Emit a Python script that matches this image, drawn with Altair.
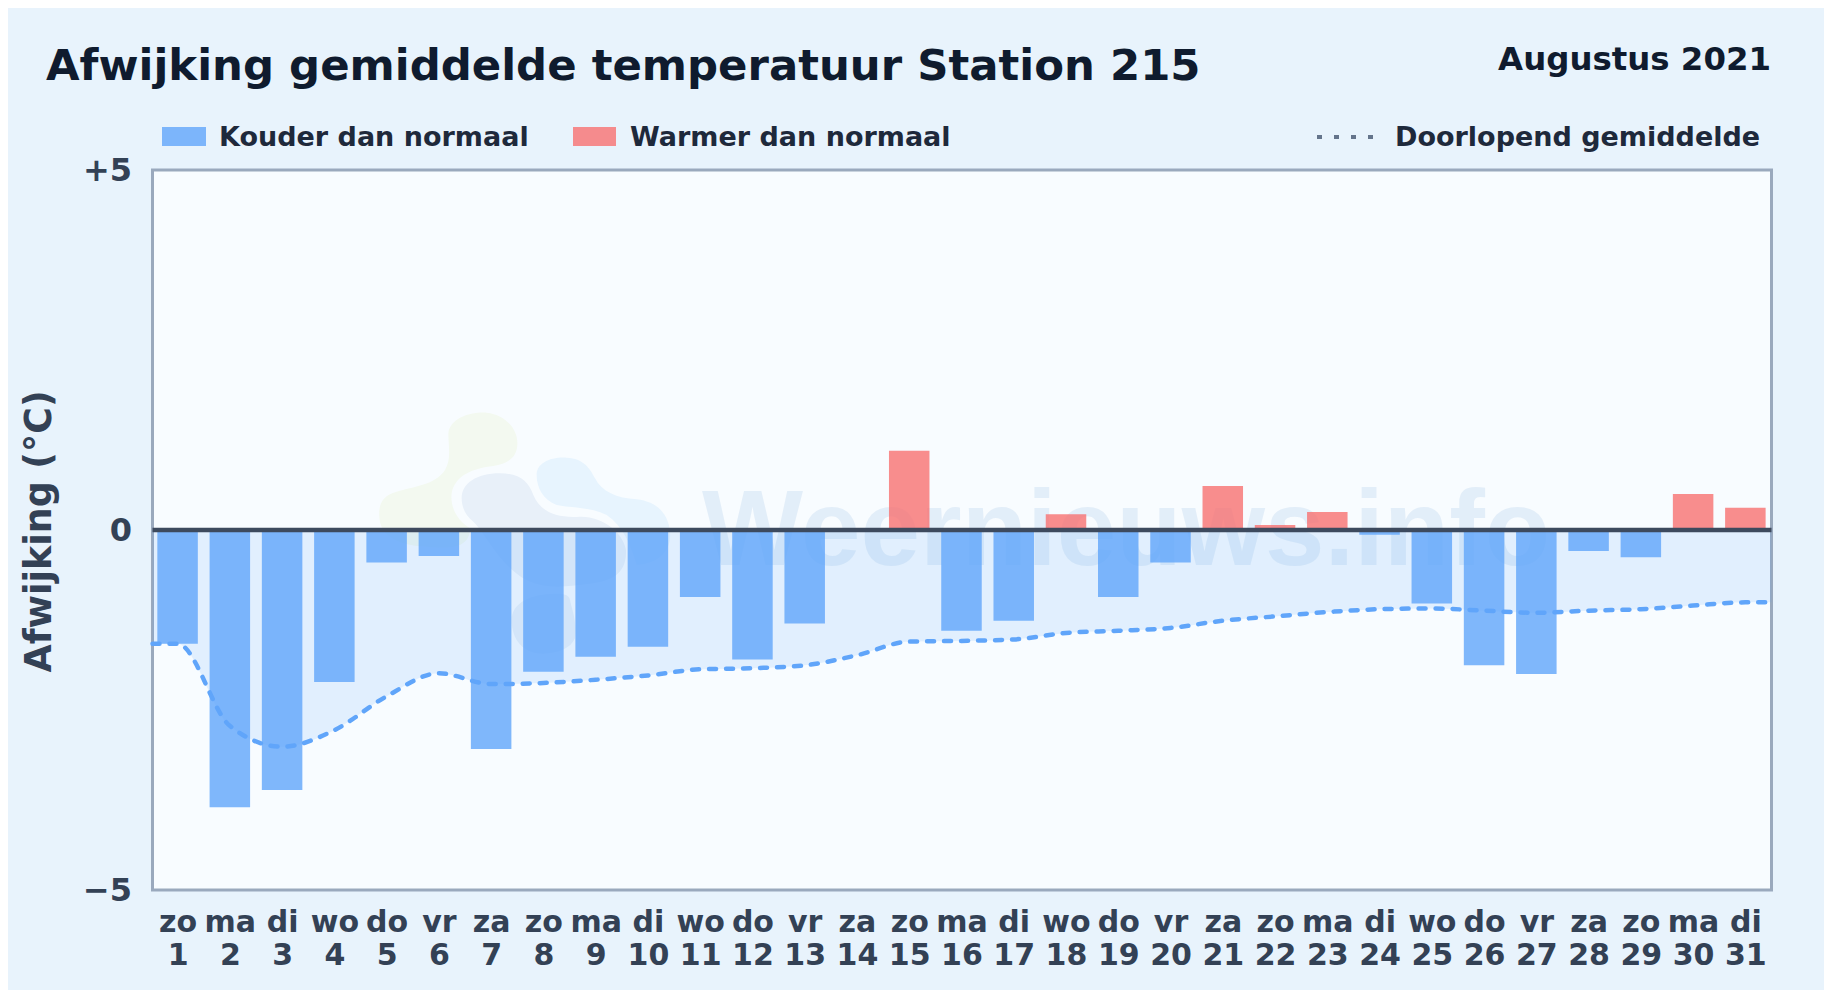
import json
import altair as alt
import pandas as pd

days = list(range(1, 32))
weekdays = ["zo","ma","di","wo","do","vr","za","zo","ma","di","wo","do","vr","za","zo","ma","di","wo","do","vr","za","zo","ma","di","wo","do","vr","za","zo","ma","di"]
deviation = [-1.58,-3.85,-3.61,-2.11,-0.45,-0.36,-3.04,-1.97,-1.76,-1.62,-0.93,-1.80,-1.30,0.0,1.10,-1.40,-1.26,0.22,-0.93,-0.45,0.61,0.07,0.25,-0.065,-1.02,-1.88,-2.0,-0.29,-0.38,0.50,0.31]
running = [-1.58,-2.72,-3.01,-2.78,-2.31,-1.99,-2.14,-2.125,-2.08,-2.02,-1.935,-1.92,-1.88,-1.74,-1.55,-1.54,-1.52,-1.43,-1.40,-1.36,-1.26,-1.20,-1.14,-1.10,-1.09,-1.12,-1.15,-1.12,-1.10,-1.05,-1.005]
x_domain = [0.52, 31.5]
line_days = [x_domain[0]] + days + [x_domain[1]]
line_vals = [running[0]] + running + [running[-1]]

FONT = "DejaVu Sans"
PL, PT = 152.5, 170.0
W, H = 1619, 720
BG = "#e8f3fc"

bars = pd.DataFrame({"day": days, "v": deviation, "z": 0.0})
bars["kind"] = ["warm" if v > 0 else "cold" for v in deviation]
bars = bars[bars.v != 0]
line_df = pd.DataFrame({"day": line_days, "v": line_vals, "z": 0.0})

xscale = alt.Scale(domain=x_domain, nice=False, zero=False, padding=0)
yscale = alt.Scale(domain=[-5, 5], nice=False)

def txt(s, px, py, size, color, align="left", font=FONT, opacity=1.0):
    return alt.Chart(alt.Data(values=[{"t": s}])).mark_text(
        font=font, fontSize=size, fontWeight="bold", color=color, align=align,
        baseline="alphabetic", opacity=opacity, clip=False
    ).encode(text="t:N", x=alt.value(px - PL), y=alt.value(py - PT))

def swatch(x0, x1, y0, y1, color, opacity):
    return alt.Chart(alt.Data(values=[{"a": 1}])).mark_rect(color=color, opacity=opacity).encode(
        x=alt.value(x0 - PL), x2=alt.value(x1 - PL), y=alt.value(y0 - PT), y2=alt.value(y1 - PT))

def blob(path, color):
    return alt.Chart(alt.Data(values=[{"a": 1}])).mark_point(
        shape=path, filled=True, color=color, opacity=1, size=4/9, clip=False
    ).encode(x=alt.value(360 - PL), y=alt.value(390 - PT))

green = "M265 130C270 85 330 65 380 68C440 75 475 120 472 165C470 205 440 222 400 228C340 235 285 255 275 310C270 350 290 390 330 415C330 470 280 480 200 470C100 465 60 430 58 380C55 340 70 315 110 305C160 290 225 285 255 240C275 205 265 170 265 130Z"
grey = "M305 325C305 280 350 250 420 250C480 250 505 275 520 315C540 365 590 385 660 380C730 378 790 430 798 480C800 540 770 570 700 580C620 590 560 600 500 570C420 530 370 420 340 395C315 375 305 350 305 325Z"
light = "M530 255C530 220 570 200 620 203C670 205 690 235 705 265C725 305 770 325 830 328C890 335 925 370 930 425C935 480 900 520 830 525C810 460 790 410 740 375C690 350 640 355 590 345C550 330 530 295 530 255Z"
lower = "M455 690C455 640 510 615 570 612C610 610 630 610 632 640C640 670 650 700 645 745C630 780 580 795 530 790C480 780 455 740 455 690Z"

logo = [blob(green, "#f3f9f0"), blob(grey, "#e8f0f9"), blob(light, "#e7f4fe"), blob(lower, "#e8f0f9")]
watermark = txt("Weernieuws.info", 702, 565, 107, "#bcd5ee", font="Liberation Sans", opacity=0.35)

area = alt.Chart(line_df).mark_area(interpolate="monotone", color="#60a5fa", opacity=0.15).encode(
    x=alt.X("day:Q", scale=xscale, title=None,
            axis=alt.Axis(values=days, domain=False, ticks=False, grid=False, labelFont=FONT,
                          labelFontWeight="bold", labelFontSize=30, labelColor="#334155",
                          labelPadding=17, labelLineHeight=33, labelOverlap=False, labelFlush=False,
                          labelExpr="[" + json.dumps(weekdays) + "[datum.value-1], ''+datum.value]")),
    y=alt.Y("v:Q", scale=yscale,
            axis=alt.Axis(values=[-5, 0, 5], title="Afwijking (°C)", domain=False, ticks=False, grid=False,
                          labelFont=FONT, labelFontWeight="bold", labelFontSize=32, labelColor="#334155",
                          labelPadding=21, labelExpr="datum.value > 0 ? '+' + datum.value : datum.value < 0 ? '\u2212' + abs(datum.value) : '0'",
                          titleFont=FONT, titleFontWeight="bold", titleFontSize=36.4, titleColor="#334155",
                          titleX=50 - PL, titleY=531 - PT, titleAlign="center", titleBaseline="alphabetic")),
    y2="z:Q")

bar = alt.Chart(bars).mark_bar(size=40.5, opacity=0.8).encode(
    x=alt.X("day:Q", scale=xscale), y=alt.Y("v:Q", scale=yscale), y2="z:Q",
    color=alt.Color("kind:N", scale=alt.Scale(domain=["cold", "warm"], range=["#60a5fa", "#f87171"]), legend=None))

line = alt.Chart(line_df).mark_line(interpolate="monotone", color="#60a5fa", strokeWidth=4.5,
                                    strokeDash=[7, 10], strokeCap="round").encode(
    x=alt.X("day:Q", scale=xscale), y=alt.Y("v:Q", scale=yscale))

zero = alt.Chart(alt.Data(values=[{"v": 0}])).mark_rule(color="#3d4a5e", strokeWidth=4.4).encode(
    y=alt.Y("v:Q", scale=yscale))

texts = [
    txt("Afwijking gemiddelde temperatuur Station 215", 46, 80, 43.4, "#0f1b2e"),
    txt("Augustus 2021", 1771, 70, 32.4, "#0f1b2e", align="right"),
    txt("Kouder dan normaal", 219, 146, 27, "#1e293b"),
    txt("Warmer dan normaal", 630, 146, 27, "#1e293b"),
    txt("Doorlopend gemiddelde", 1395, 146, 27, "#1e293b"),
]
legend_marks = [
    swatch(162, 206, 127, 146, "#60a5fa", 0.8),
    swatch(573, 616, 127, 146, "#f87171", 0.8),
    alt.Chart(alt.Data(values=[{"a": 1}])).mark_rule(color="#64748b", strokeWidth=4, strokeDash=[5, 12]).encode(
        x=alt.value(1317 - PL), x2=alt.value(1375 - PL), y=alt.value(137 - PT)),
]

chart = alt.layer(*logo, watermark, area, bar, line, zero, *legend_marks, *texts).properties(
    width=W, height=H,
    autosize=alt.AutoSizeParams(type="none"),
    padding={"left": PL - 8, "top": PT - 8, "right": 52, "bottom": 100},
    background=BG,
).configure_view(fill="#f8fcff", stroke="#9aa9bd", strokeWidth=3)

chart.save("out.html", embed_options={"renderer": "svg", "actions": False})
